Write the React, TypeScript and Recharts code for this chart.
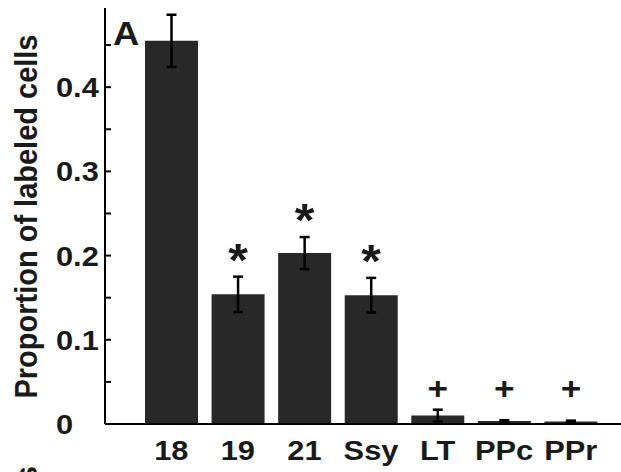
import React from 'react';
import { ComposedChart, Bar, XAxis, YAxis, ErrorBar, LabelList } from 'recharts';

const categories = ['18', '19', '21', 'Ssy', 'LT', 'PPc', 'PPr'];
const proportions = [0.455, 0.154, 0.203, 0.153, 0.01, 0.0035, 0.003];
const errors = [0.031, 0.021, 0.019, 0.0205, 0.007, 0.001, 0.001];
const marks = ['', '*', '*', '*', '+', '+', '+'];
const yTicks = [0, 0.05, 0.1, 0.15, 0.2, 0.25, 0.3, 0.35, 0.4, 0.45];
const yTickLabels: Record<string, string> = { '0': '0', '0.1': '0.1', '0.2': '0.2', '0.3': '0.3', '0.4': '0.4' };

const data = categories.map((c, i) => ({ name: c, value: proportions[i], err: errors[i], mark: marks[i] }));

const FONT = '"Liberation Sans", Arial, Helvetica, sans-serif';
const SX = 1.1;

const YTick = (props: any) => {
  const { x, y, payload } = props;
  const key = String(Math.round(payload.value * 100) / 100);
  const label = yTickLabels[key];
  return (
    <g>
      {payload.value !== 0 && <line x1={x} x2={x + 6} y1={y} y2={y} stroke="#000" strokeWidth={2} />}
      {label !== undefined && (
        <text
          transform={`translate(${x - 49},${y + 10}) scale(${SX},1)`}
          fontFamily={FONT}
          fontWeight="bold"
          fontSize={28}
          fill="#1a1a1a"
          textAnchor="start"
        >
          {label}
        </text>
      )}
    </g>
  );
};

const XTick = (props: any) => {
  const { x, y, payload } = props;
  return (
    <text
      transform={`translate(${x},${y + 36}) scale(${SX},1)`}
      fontFamily={FONT}
      fontWeight="bold"
      fontSize={28}
      fill="#1a1a1a"
      textAnchor="middle"
    >
      {payload.value}
    </text>
  );
};

const MarkLabel = (props: any) => {
  const vb = props.viewBox || props;
  const { x, y, width, height } = vb;
  const index = props.index;
  const m = marks[index];
  if (!m) return null;
  const v = proportions[index];
  const e = errors[index];
  const cx = x + width / 2;
  const base = y + height;
  if (m === '*') {
    const pxPerUnit = height / v;
    const errTop = y - e * pxPerUnit;
    const centerY = errTop - 26;
    return (
      <text
        transform={`translate(${cx},${centerY + 25}) scale(${SX},1)`}
        fontFamily={FONT}
        fontWeight="bold"
        fontSize={46}
        fill="#1a1a1a"
        textAnchor="middle"
      >
        *
      </text>
    );
  }
  const centerY = base - 36;
  return (
    <text
      transform={`translate(${cx},${centerY + 11}) scale(${SX},1)`}
      fontFamily={FONT}
      fontWeight="bold"
      fontSize={32}
      fill="#1a1a1a"
      textAnchor="middle"
    >
      +
    </text>
  );
};

export default function App() {
  return (
    <div style={{ position: 'absolute', left: 0, top: 0, width: 621, height: 472, background: '#fff', overflow: 'hidden' }}>
      <ComposedChart
        width={621}
        height={472}
        data={data}
        margin={{ top: 8, right: 0, bottom: 0, left: 0 }}
        barSize={53}
      >
        <XAxis
          dataKey="name"
          height={48}
          padding={{ left: 33, right: 17 }}
          axisLine={{ stroke: '#000', strokeWidth: 2 }}
          tickLine={false}
          tickSize={0}
          tickMargin={0}
          tick={<XTick />}
          interval={0}
        />
        <YAxis
          width={105}
          domain={[0, 0.494]}
          ticks={yTicks}
          axisLine={{ stroke: '#000', strokeWidth: 2 }}
          tickLine={false}
          tickSize={0}
          tickMargin={0}
          tick={<YTick />}
          interval={0}
          allowDataOverflow
        />
        <Bar dataKey="value" fill="#282828" isAnimationActive={false}>
          <ErrorBar dataKey="err" width={5} strokeWidth={2.5} stroke="#000" direction="y" isAnimationActive={false} />
          <LabelList dataKey="mark" content={<MarkLabel />} />
        </Bar>
      </ComposedChart>
      <svg width={621} height={472} style={{ position: 'absolute', left: 0, top: 0, pointerEvents: 'none' }}>
        <text
          transform={`translate(37,216.5) scale(${SX},1) rotate(-90)`}
          fontFamily={FONT}
          fontWeight="bold"
          fontSize={29}
          fill="#1a1a1a"
          textAnchor="middle"
        >
          Proportion of labeled cells
        </text>
        <text
          transform={`translate(113,45) scale(${SX},1)`}
          fontFamily={FONT}
          fontWeight="bold"
          fontSize={33}
          fill="#1a1a1a"
        >
          A
        </text>
        <text
          transform={`translate(37,466) scale(${SX},1) rotate(-90)`}
          fontFamily={FONT}
          fontWeight="bold"
          fontSize={29}
          fill="#1a1a1a"
          textAnchor="end"
        >
          cells
        </text>
      </svg>
    </div>
  );
}
